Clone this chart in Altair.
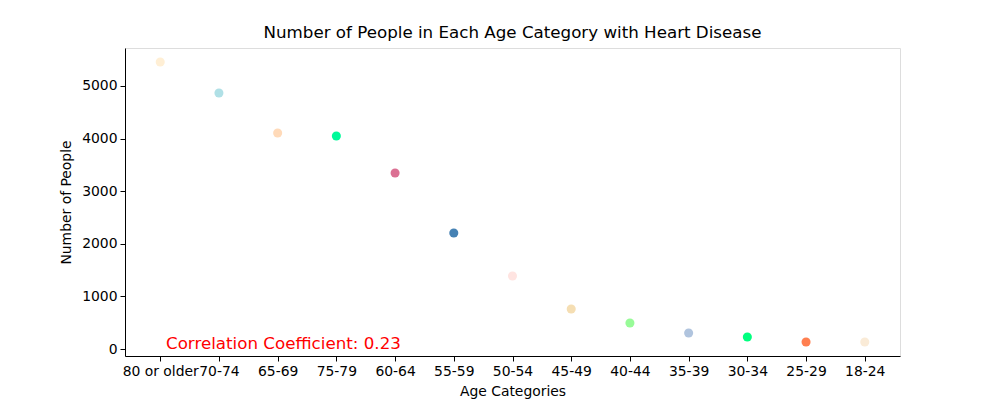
import altair as alt
import pandas as pd

age_categories = ["80 or older", "70-74", "65-69", "75-79", "60-64", "55-59", "50-54",
                  "45-49", "40-44", "35-39", "30-34", "25-29", "18-24"]
people_counts = [5456, 4867, 4106, 4049, 3346, 2205, 1388, 760, 494, 304, 228, 133, 133]
point_colors = ["#FFEFD5", "#B0E0E6", "#FFDAB9", "#00FA9A", "#DB7093", "#4682B4", "#FFE4E1",
                "#F5DEB3", "#98FB98", "#B0C4DE", "#00FF7F", "#FF7F50", "#FAEBD7"]
corr_label = "Correlation Coefficient: 0.23"

df = pd.DataFrame({"AgeCategory": age_categories, "Count": people_counts, "color": point_colors})

font = "DejaVu Sans"

points = (
    alt.Chart(df)
    .mark_circle(size=82, opacity=1)
    .encode(
        x=alt.X("AgeCategory:N", sort=age_categories, title="Age Categories",
                scale=alt.Scale(type="point", padding=0.6),
                axis=alt.Axis(labelAngle=0, labelFontSize=13.9, titleFontSize=13.9,
                              titleFontWeight="normal",
                              labelColor="black", titleColor="black", labelFont=font, titleFont=font,
                              tickSize=5, tickColor="black", domainColor="black",
                              labelPadding=3, titlePadding=7, grid=False)),
        y=alt.Y("Count:Q", title="Number of People",
                scale=alt.Scale(domain=[-133, 5722], nice=False, zero=False),
                axis=alt.Axis(values=[0, 1000, 2000, 3000, 4000, 5000], format="d",
                              labelFontSize=13.9, titleFontSize=13.9, titleFontWeight="normal",
                              labelColor="black", titleColor="black",
                              labelFont=font, titleFont=font, tickSize=5, tickColor="black",
                              domainColor="black", labelPadding=3, titlePadding=8, grid=False)),
        color=alt.Color("color:N", scale=None),
    )
)

annot = (
    alt.Chart(pd.DataFrame({"label": [corr_label]}))
    .mark_text(align="left", baseline="alphabetic", color="red", fontSize=16.7, font=font)
    .encode(x=alt.value(41), y=alt.value(301), text="label:N")
)

chart = (
    alt.layer(points, annot)
    .properties(
        width=775, height=308,
        title=alt.TitleParams("Number of People in Each Age Category with Heart Disease",
                              fontSize=16.7, font=font, fontWeight="normal", color="black", offset=6),
        autosize=alt.AutoSizeParams(type="none"),
        padding={"left": 117, "top": 40, "right": 92, "bottom": 44},
    )
    .configure_view(stroke="black", strokeWidth=1)
    .configure(background="white")
)

chart.save("out.html", embed_options={"renderer": "svg", "actions": False})
